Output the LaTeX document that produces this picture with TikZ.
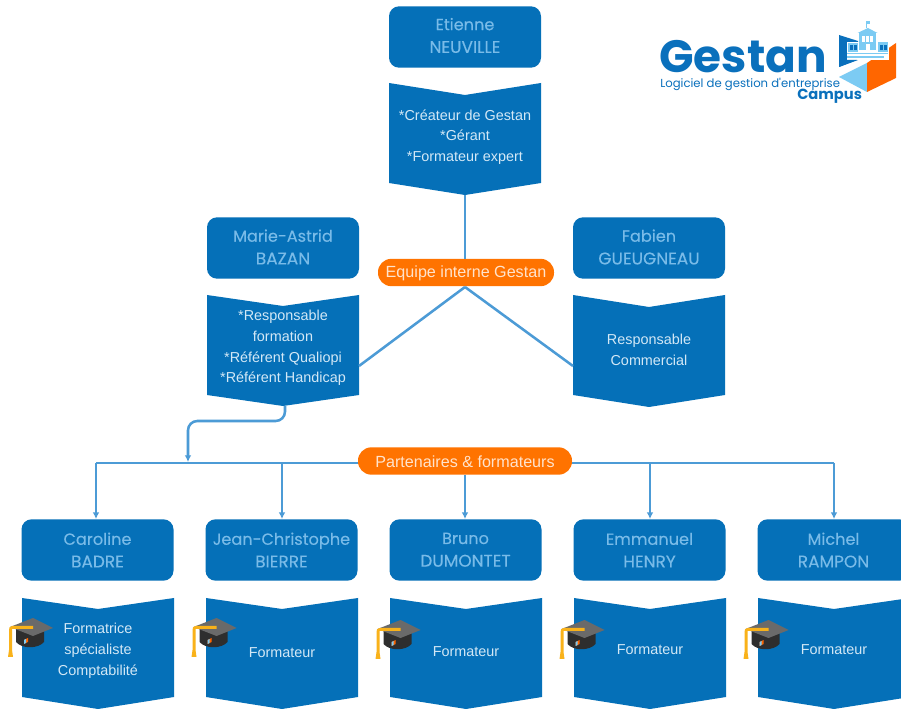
\documentclass[tikz,border=0pt]{standalone}
\usepackage{fontspec}
\usetikzlibrary{arrows.meta}
\setmainfont{Liberation Sans}
\newfontfamily\logofont{Poppins}
\newfontfamily\namefont{Poppins}[FakeBold=0.25]
\definecolor{boxblue}{HTML}{0570B8}
\definecolor{nametxt}{HTML}{79BBE8}
\definecolor{flagtxt}{HTML}{D3E8F6}
\definecolor{linecol}{HTML}{4C9BD6}
\definecolor{pillcol}{HTML}{FF7300}
\definecolor{pilltxt}{HTML}{FFE3CC}
\definecolor{logoblue}{HTML}{0A70BC}
\definecolor{logolight}{HTML}{7CCBF3}
\definecolor{logoorange}{HTML}{FF6600}
\definecolor{hatgray}{HTML}{6A6A6A}
\definecolor{hatdark}{HTML}{2E2E2E}
\definecolor{hatgold}{HTML}{F9B21A}
\tikzset{
  px/.style={x=0.75pt,y=-0.75pt},
  namebox/.style={fill=boxblue,rounded corners=7.5pt,minimum width=114pt,minimum height=46pt,inner sep=0pt,align=center,text=nametxt,font=\namefont\fontsize{12.1}{17}\selectfont},
  flagtext/.style={inner sep=0pt,align=center,text=flagtxt,font=\fontsize{10.8}{15.6}\selectfont},
  pill/.style={fill=pillcol,rounded corners=10pt,inner sep=0pt,minimum height=20.5pt,text=pilltxt,font=\fontsize{12.1}{13}\selectfont},
  conn/.style={draw=linecol,line width=1.9pt},
  connarrow/.style={conn,-{Latex[length=5pt,width=5pt]}},
}
\newcommand{\nudged}[2]{\raisebox{-#1}[\height][\depth]{#2}}
\newcommand{\nm}[3]{\nudged{#1}{\begin{tabular}{@{}c@{}}#2\\\fontsize{12.7}{17}\selectfont #3\end{tabular}}}
% name, left x, top corner y, notch y, bottom side y, tip y, text y, text
\newcommand{\flagbox}[8]{%
  \fill[boxblue] (#2,#3) -- (#2+76,#4) -- (#2+152,#3) -- (#2+152,#5) -- (#2+76,#6) -- (#2,#5) -- cycle;
  \node[flagtext] (#1) at (#2+76,#7) {#8};
  \coordinate (#1tip) at (#2+76,#6);
}
\newcommand{\gradhat}[2]{%
  \begin{scope}[shift={(#1,#2)}]
    \fill[hatdark] (16,628) -- (44,628) -- (44,642) .. controls (38,649) and (22,649) .. (16,642) -- cycle;
    \fill[hatgray] (10,627) -- (33,618) -- (53,628) -- (33,636) -- cycle;
    \fill[hatgold] (33,626) -- (12,626) .. controls (9.5,626) and (9,628) .. (9,630) -- (9,650) -- (8,657) -- (13,657) -- (12,650) -- (12,629) -- (33,629) -- cycle;
    \fill[logoorange] (24,640) -- (28,638) -- (28,642) -- (24,644) -- cycle;
    \fill[logolight] (24,640) -- (26,639) -- (26,643) -- (24,644) -- cycle;
  \end{scope}
}
\begin{document}
\begin{tikzpicture}[px]
\useasboundingbox (0,0) rectangle (901,709);
\fill[white] (0,0) rectangle (901,709);
\node[namebox] (etienne) at (465,37) {\nm{0pt}{Etienne}{NEUVILLE}};
\flagbox{creator}{389}{83}{95}{183}{195}{137}{*Créateur de Gestan\\*Gérant\\*Formateur expert}
\node[namebox] (marie) at (283,248) {\nm{0.4pt}{Marie-Astrid}{BAZAN}};
\flagbox{mariefl}{207}{295}{306}{395}{406}{348}{*Responsable\\formation\\*Référent Qualiopi\\*Référent Handicap}
\node[namebox] (fabien) at (649,248) {\nm{0.4pt}{Fabien}{GUEUGNEAU}};
\flagbox{fabienfl}{573}{295}{307}{395}{407}{350}{Responsable\\Commercial}
\coordinate (marieside) at (359,366);
\coordinate (fabienside) at (573,366);
\node[pill,minimum width=132pt] (equipe) at (466,272.5) {\nudged{0.8pt}{Equipe interne Gestan}};
\node[pill,minimum width=160.5pt] (part) at (465,461) {\nudged{0.5pt}{Partenaires \& formateurs}};
\draw[conn] (creatortip) -- (equipe.north -| creatortip);
\coordinate (eqb) at (465,287);
\draw[conn] (eqb) -- (marieside);
\draw[conn] (eqb) -- (fabienside);
\node[namebox] (caroline) at (97.5,550) {\nm{1.2pt}{Caroline}{BADRE}};
\node[namebox] (jc) at (281.5,550) {\nm{1.2pt}{Jean-Christophe}{BIERRE}};
\node[namebox] (bruno) at (465.5,550) {\nm{0.6pt}{Bruno}{DUMONTET}};
\node[namebox] (emmanuel) at (649.5,550) {\nm{1.2pt}{Emmanuel}{HENRY}};
\node[namebox] (michel) at (833.5,550) {\nm{1.2pt}{Michel}{RAMPON}};
\flagbox{carfl}{22}{598}{609}{697}{709}{651}{Formatrice\\spécialiste\\Comptabilité}
\flagbox{jcfl}{206}{598}{609}{697}{709}{653}{Formateur}
\flagbox{brfl}{390}{598}{609}{697}{709}{652}{Formateur}
\flagbox{emfl}{574}{598}{609}{697}{709}{650}{Formateur}
\flagbox{mifl}{758}{598}{609}{697}{709}{650}{Formateur}
\gradhat{0}{0}\gradhat{183.5}{0}\gradhat{367.5}{2}\gradhat{551.5}{2}\gradhat{735.5}{2}
\coordinate (busl) at (96,463);
\coordinate (busr) at (834,463);
\coordinate (b2) at (282,463);
\coordinate (b3) at (465,463);
\coordinate (b4) at (650,463);
\draw[conn] (part.west |- busl) -- (busl);
\draw[conn] (part.east |- busr) -- (busr);
\draw[connarrow] (busl) -- (caroline.north -| busl);
\draw[connarrow] (busr) -- (michel.north -| busr);
\draw[connarrow] (b2) -- (jc.north -| b2);
\draw[connarrow] (part.south -| b3) -- (bruno.north -| b3);
\draw[connarrow] (b4) -- (emmanuel.north -| b4);
\coordinate (busin) at (188,462);
\coordinate (mfstart) at (285,406);
\draw[connarrow,rounded corners=7pt] (mfstart) -- (285,421) -- (188,421) -- (busin);
\node[anchor=base west,inner sep=0pt,text=logoblue,font=\logofont\fontsize{34}{34}\selectfont\bfseries] (gestan) at (659,73) {Gestan};
\node[anchor=west,inner sep=0pt,text=logoblue,font=\logofont\fontsize{8.75}{10}\selectfont] (tagline) at (660,84.5) {Logiciel de gestion d'entreprise};
\node[anchor=west,inner sep=0pt,text=logoblue,font=\logofont\fontsize{11}{13}\selectfont\bfseries] (campus) at (797,96.5) {Campus};
% icon
\fill[logoblue] (839,35) -- (858,41) -- (858,60) -- (839,67) -- cycle;
\fill[logolight] (839,77) -- (867,63) -- (867,92) -- cycle;
\fill[logoorange] (867,63) -- (896,43) -- (896,78) -- (867,92) -- cycle;
\fill[white] (847,42) rectangle (889,60);
\fill[logolight] (848,43) rectangle (858,52);
\fill[logolight] (859,33) rectangle (876,50);
\fill[logolight] (857.5,33) -- (868,28) -- (877.5,33) -- cycle;
\fill[logolight] (878,42) rectangle (888,52);
\fill[logolight] (847,53) -- (888,53) -- (888,54.5) -- (847,54.5) -- cycle;
\fill[logolight] (847,56.5) -- (884,56.5) -- (884,58) -- (847,58) -- cycle;
\fill[logoblue] (839,60) -- (857,60) -- (839,67) -- cycle;
\draw[logolight,line width=0.6pt] (866,28) -- (866,21);
\fill[logolight] (866,21) rectangle (870,24);
\foreach \xx in {862,866,870}{\fill[white] (\xx,36) rectangle (\xx+2.5,42);}
\fill[white] (865.5,44) rectangle (870,50);
\foreach \xx in {850,854}{\fill[logoblue] (\xx,45) rectangle (\xx+2.5,50);}
\foreach \xx in {880,884}{\fill[logoblue] (\xx,45) rectangle (\xx+2.5,50);}
\end{tikzpicture}
\end{document}
